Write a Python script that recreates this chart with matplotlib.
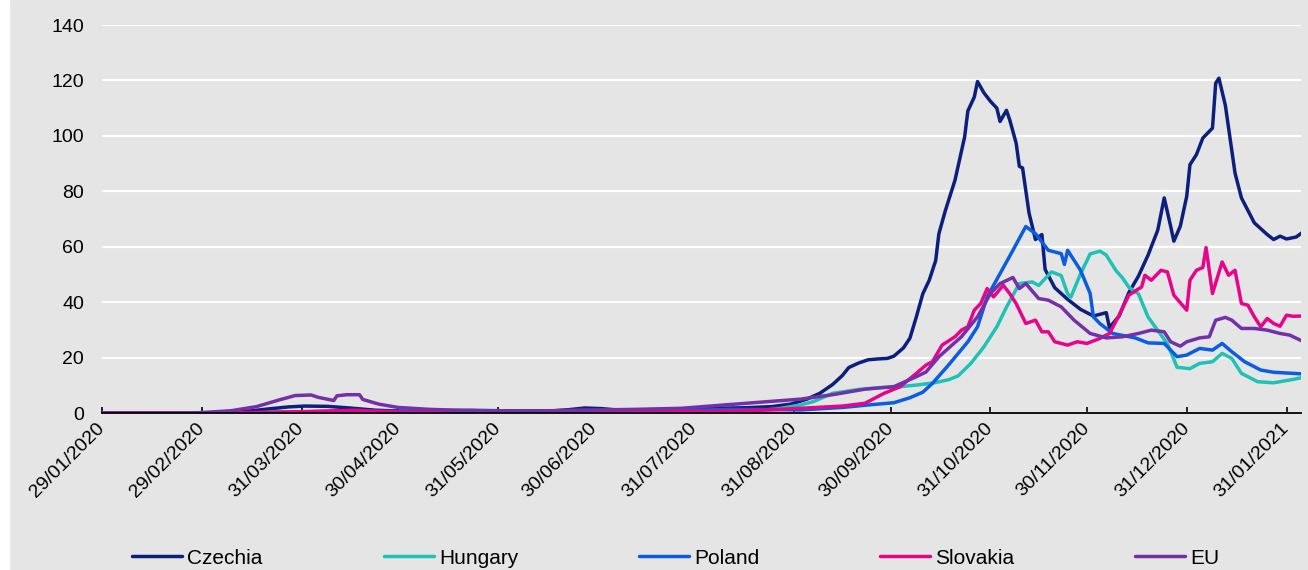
import matplotlib
matplotlib.use("Agg")
import matplotlib.pyplot as plt
import matplotlib.dates as mdates
import pandas as pd

START = "2020-01-29"

# days since START
cz_days = [0, 35, 45, 52, 58, 63, 70, 77, 85, 95, 110, 125, 138, 145, 150, 155, 160, 170, 180, 190,
           200, 208, 214, 219, 223, 227, 230, 232, 235, 238, 241, 244, 246, 249, 251, 253, 255, 257,
           259, 260, 262, 265, 268, 269, 271, 272, 274, 276, 278, 279, 281, 282, 284, 285, 286, 288,
           290, 292, 293, 296, 300, 304, 308, 310, 312, 313, 316, 319, 322, 325, 328, 330, 332, 333,
           335, 337, 338, 340, 342, 345, 346, 347, 349, 352, 354, 358, 362, 364, 366, 368, 371, 373]
cz_vals = [0, 0.1, 0.6, 1.5, 2.2, 2.5, 2.4, 1.8, 1.0, 0.6, 0.5, 0.5, 0.6, 1.2, 1.8, 1.6, 1.1, 1.0, 1.4, 1.7,
           1.9, 2.3, 3.2, 5.0, 7.1, 10.3, 13.5, 16.4, 18.0, 19.2, 19.5, 19.7, 20.5, 23.5, 27, 34.7, 43, 47.9,
           55, 64.7, 73, 84, 99.6, 109, 114, 119.6, 115.5, 112.5, 110, 105.2, 109.2, 105.8, 97.4, 89, 88.4, 72.2,
           62.6, 64.4, 51.8, 45.2, 41, 37.4, 35, 35.6, 36.2, 30.8, 35, 43.4, 49.4, 57, 66, 77.6, 67.4, 62,
           67.4, 78.2, 89.6, 93.2, 99.2, 102.8, 119, 120.8, 111, 86.6, 77.6, 68.6, 64.4, 62.6, 63.8, 62.8, 63.5, 65.2]

hu_days = [0, 40, 55, 65, 75, 85, 100, 130, 160, 190, 200, 210, 217, 221, 227, 235, 242, 248, 254, 259,
           263, 266, 270, 274, 278, 281, 285, 289, 291, 295, 298, 300, 301, 304, 307, 310, 312, 315, 317,
           319, 322, 325, 328, 331, 334, 338, 341, 345, 348, 351, 354, 359, 364, 369, 373]
hu_vals = [0, 0, 0.2, 0.4, 0.5, 0.4, 0.2, 0.1, 0.1, 0.2, 0.5, 1.5, 2.9, 4.1, 7.1, 8.5, 9.2, 9.5, 10.2, 11,
           12, 13.4, 18, 23.9, 31.1, 38.2, 46.7, 47.3, 46, 50.9, 49.6, 43, 41.8, 50.2, 57.4, 58.4, 57, 51.4, 48.8,
           45.4, 43, 34.6, 29.8, 25, 16.5, 16, 17.9, 18.5, 21.5, 19.7, 14.3, 11.3, 10.9, 11.9, 12.8]

pl_days = [0, 35, 50, 60, 75, 90, 105, 115, 125, 140, 150, 165, 180, 195, 210, 217, 230, 238, 246, 251,
           255, 258, 263, 269, 272, 275, 279, 283, 287, 290, 294, 298, 299, 300, 304, 307, 308, 310, 314,
           321, 325, 330, 334, 337, 341, 345, 348, 351, 355, 360, 364, 373]
pl_vals = [0, 0, 0.2, 0.4, 0.6, 0.6, 0.8, 1.0, 0.8, 0.8, 0.9, 0.7, 0.9, 1.3, 1.2, 1.1, 2.0, 2.9, 3.7, 5.5,
           7.5, 10.7, 17.3, 25.7, 31.1, 41.9, 50.3, 58.7, 67.3, 64.7, 58.7, 57.5, 53.6, 58.7, 51.5, 43.1, 34.7, 32.3, 28.7,
           27.1, 25.3, 25.1, 20.3, 20.9, 23.3, 22.7, 25.1, 22.1, 18.5, 15.5, 14.7, 14.1]

sk_days = [0, 45, 60, 72, 79, 86, 95, 120, 150, 170, 190, 205, 217, 230, 237, 243, 248, 253, 256, 258,
           261, 265, 267, 269, 271, 273, 275, 277, 280, 282, 284, 287, 290, 292, 294, 296, 300, 303, 306,
           310, 313, 316, 319, 323, 324, 326, 329, 331, 333, 337, 338, 340, 342, 343, 345, 348, 350, 352,
           354, 356, 358, 360, 362, 364, 366, 368, 370, 373]
sk_vals = [0, 0.1, 0.4, 0.8, 1.0, 0.6, 0.2, 0.1, 0.1, 0.3, 0.6, 1.0, 1.7, 2.5, 3.5, 7.1, 9.5, 14.3, 17.3, 18.5,
           24.5, 27.5, 29.9, 31.1, 37.1, 39.5, 44.9, 41.9, 46.1, 43.1, 39.5, 32.3, 33.5, 29.3, 29.3, 25.7, 24.5, 25.7, 25.1,
           26.9, 28.7, 35.3, 42.5, 45.5, 49.7, 47.9, 51.5, 50.9, 42.5, 37.1, 47.9, 51.5, 52.5, 59.7, 43.1, 54.5, 49.7, 51.5,
           39.5, 38.9, 34.7, 31.1, 34.1, 32.3, 31.3, 35.3, 34.9, 35]

eu_days = [0, 30, 40, 48, 55, 60, 65, 67, 72, 73, 76, 80, 81, 86, 92, 102, 117, 133, 148, 165, 180, 200,
           217, 227, 237, 246, 253, 256, 260, 267, 272, 276, 279, 283, 285, 287, 291, 294, 298, 302, 307,
           312, 317, 322, 326, 330, 332, 335, 337, 341, 344, 346, 349, 351, 354, 358, 362, 366, 369, 373]
eu_vals = [0, 0.1, 0.8, 2.3, 4.7, 6.3, 6.5, 5.7, 4.5, 6.2, 6.6, 6.6, 4.9, 3.2, 2.0, 1.3, 0.8, 0.7, 1.0, 1.3, 1.7, 3.5,
           5.0, 6.6, 8.6, 9.5, 13.1, 14.8, 20.3, 27.5, 34.7, 43.1, 46.7, 48.9, 44.9, 46.7, 41.3, 40.7, 38.3, 33.5, 28.7,
           27.1, 27.5, 28.7, 29.9, 29.3, 25.7, 24.1, 25.7, 27.1, 27.5, 33.5, 34.5, 33.5, 30.5, 30.5, 29.9, 28.7, 28.1, 25.9]

countries = ["Czechia", "Hungary", "Poland", "Slovakia", "EU"]
colors = ["#0c1f7c", "#1fc2b4", "#0a5ce0", "#e6058a", "#7430a8"]
series = [(cz_days, cz_vals), (hu_days, hu_vals), (pl_days, pl_vals), (sk_days, sk_vals), (eu_days, eu_vals)]

tick_dates = ["2020-01-29", "2020-02-29", "2020-03-31", "2020-04-30", "2020-05-31", "2020-06-30",
              "2020-07-31", "2020-08-31", "2020-09-30", "2020-10-31", "2020-11-30", "2020-12-31", "2021-01-31"]

plt.rcParams["font.family"] = ["Liberation Sans", "DejaVu Sans"]
bg = "#e5e5e5"

fig = plt.figure(figsize=(13.08, 5.70), dpi=100, facecolor=bg)
fig.patches.append(plt.Rectangle((0, 0), 9 / 1308, 1, transform=fig.transFigure, color="white", zorder=0))
ax = fig.add_axes([102 / 1308, 1 - 413 / 570, 1199 / 1308, 388 / 570])
ax.set_facecolor(bg)

start = pd.Timestamp(START)
for name, col, (d, v) in zip(countries, colors, series):
    dates = start + pd.to_timedelta(d, unit="D")
    ax.plot(dates, v, color=col, lw=2.5, label=name, solid_capstyle="round", solid_joinstyle="round")

ax.set_ylim(0, 140)
ax.set_yticks(range(0, 141, 20))
ax.set_xlim(start, start + pd.Timedelta(days=372.5))
ax.set_xticks(pd.to_datetime(tick_dates))
ax.xaxis.set_major_formatter(mdates.DateFormatter("%d/%m/%Y"))

ax.grid(axis="y", color="white", lw=1.6)
ax.set_axisbelow(True)
for s in ["top", "right", "left"]:
    ax.spines[s].set_visible(False)
ax.spines["bottom"].set_color("black")
ax.spines["bottom"].set_linewidth(1.3)
ax.spines["bottom"].set_zorder(5)

ax.tick_params(axis="y", length=0, pad=13, labelsize=14)
ax.tick_params(axis="x", direction="in", length=4.5, width=1.2, pad=9, labelsize=14)
for lab in ax.get_xticklabels():
    lab.set_rotation(45)
    lab.set_ha("right")
    lab.set_va("center")
    lab.set_rotation_mode("anchor")

fig.legend(loc="center", bbox_to_anchor=(676 / 1308, 1 - 558 / 570), ncol=5, frameon=False,
           fontsize=15, handlelength=2.4, handletextpad=0.25, columnspacing=5.8)

fig.savefig("out.png", dpi=100, facecolor=bg)
